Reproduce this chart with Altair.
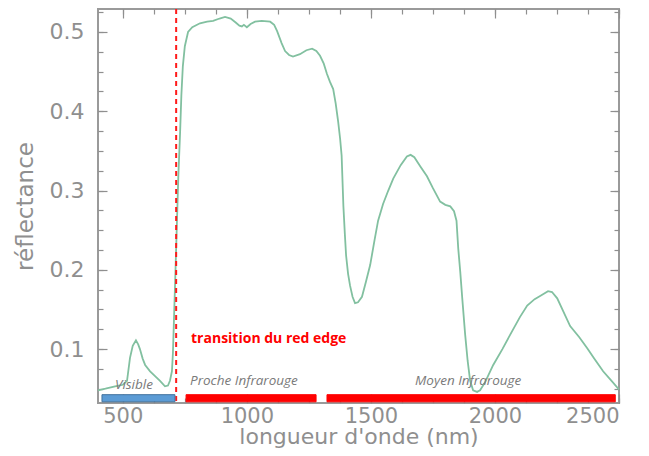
import altair as alt
import pandas as pd

# Spectral reflectance curve (wavelength nm, reflectance)
wavelength = [400, 430, 469, 500, 517, 529, 540, 553, 562, 569, 580, 590, 610, 630, 650, 670, 682, 690,
              698, 702, 706, 710, 717, 724, 731, 736, 742, 750, 763, 780, 811, 840, 864, 890, 912, 935,
              955, 970, 980, 988, 1000, 1015, 1033, 1060, 1094, 1110, 1122, 1140, 1154, 1170, 1186, 1214,
              1240, 1263, 1280, 1295, 1310, 1323, 1335, 1348, 1358, 1368, 1376, 1382, 1389, 1395, 1400,
              1408, 1416, 1426, 1436, 1448, 1464, 1480, 1497, 1515, 1529, 1549, 1570, 1590, 1620, 1645,
              1660, 1675, 1700, 1726, 1750, 1779, 1800, 1820, 1835, 1845, 1852, 1860, 1868, 1880, 1890,
              1900, 1912, 1928, 1940, 1960, 1993, 2030, 2061, 2100, 2130, 2160, 2182, 2214, 2230, 2251,
              2275, 2303, 2340, 2372, 2400, 2436, 2470, 2500]
reflectance = [0.048, 0.050, 0.053, 0.055, 0.060, 0.089, 0.104, 0.111, 0.106, 0.100, 0.088, 0.080, 0.072,
               0.066, 0.060, 0.053, 0.054, 0.060, 0.072, 0.095, 0.135, 0.175, 0.248, 0.320, 0.374, 0.420,
               0.457, 0.482, 0.500, 0.506, 0.511, 0.513, 0.514, 0.517, 0.519, 0.517, 0.512, 0.508, 0.507,
               0.509, 0.506, 0.510, 0.513, 0.514, 0.513, 0.509, 0.501, 0.486, 0.476, 0.471, 0.469, 0.472,
               0.477, 0.479, 0.476, 0.470, 0.460, 0.447, 0.437, 0.428, 0.410, 0.387, 0.365, 0.344, 0.281,
               0.245, 0.218, 0.195, 0.180, 0.166, 0.158, 0.159, 0.166, 0.185, 0.206, 0.238, 0.262, 0.283,
               0.300, 0.315, 0.332, 0.343, 0.345, 0.342, 0.330, 0.318, 0.303, 0.286, 0.282, 0.280, 0.274,
               0.262, 0.227, 0.198, 0.165, 0.118, 0.085, 0.060, 0.048, 0.046, 0.048, 0.058, 0.080, 0.100,
               0.118, 0.140, 0.155, 0.163, 0.167, 0.173, 0.172, 0.164, 0.148, 0.129, 0.115, 0.101, 0.088,
               0.072, 0.060, 0.049]

# Spectral domains (bars at the bottom)
band_start = [416, 755, 1323]
band_end = [710, 1279, 2485]
band_kind = ["visible", "nir", "swir"]
band_low = [0.0335, 0.0335, 0.0335]
band_high = [0.0425, 0.0425, 0.0425]

# Annotations
note_text = ["Visible", "Proche Infrarouge", "Moyen Infrarouge"]
note_x = [545, 771, 1892]
note_y = [0.0547, 0.0597, 0.0600]
note_align = ["center", "left", "center"]
red_edge_text = ["transition du red edge"]
red_edge_x = [775]
red_edge_y = [0.1125]
red_edge_line = [715]

# Axis ticks
x_major = [500, 1000, 1500, 2000, 2500]
x_minor = [500, 625, 750, 875, 1000, 1125, 1250, 1375, 1500, 1625, 1750, 1875, 2000, 2125, 2250, 2375, 2500]
y_major = [0.1, 0.2, 0.3, 0.4, 0.5]
y_minor = [0.05, 0.075, 0.1, 0.125, 0.15, 0.175, 0.2, 0.225, 0.25, 0.275, 0.3, 0.325, 0.35, 0.375,
           0.4, 0.425, 0.45, 0.475, 0.5, 0.525]

X_DOMAIN = [400, 2500]
Y_DOMAIN = [0.032, 0.529]
GREY = "#8f8f8f"

curve = pd.DataFrame({"wl": wavelength, "r": reflectance})
bands = pd.DataFrame({"x1": band_start, "x2": band_end, "kind": band_kind, "y1": band_low, "y2": band_high})
notes = pd.DataFrame({"t": note_text, "x": note_x, "y": note_y, "a": note_align})
red_note = pd.DataFrame({"t": red_edge_text, "x": red_edge_x, "y": red_edge_y})
red_line = pd.DataFrame({"x": red_edge_line})

xs = alt.Scale(domain=X_DOMAIN, nice=False, zero=False)
ys = alt.Scale(domain=Y_DOMAIN, nice=False, zero=False)


def tick_axis(orient, values, size, labels=False, title=None, **kw):
    args = dict(orient=orient, values=values, tickSize=size, offset=-size, domain=False, grid=False,
                labels=labels, tickColor=GREY, tickWidth=1.2)
    args["title"] = title
    args.update(kw)
    return alt.Axis(**args)


label_style = dict(labelColor=GREY, labelFontSize=22, labelFont="DejaVu Sans", titleColor=GREY,
                   titleFontSize=22, titleFont="DejaVu Sans", titleFontWeight="normal")

main_line = alt.Chart(curve).mark_line(color="#82c0a0", strokeWidth=1.8).encode(
    x=alt.X("wl:Q", scale=xs,
            axis=tick_axis("bottom", x_major, 9, labels=True, title="longueur d'onde (nm)",
                           labelPadding=2, titlePadding=0, format="d",
                           **dict(label_style, labelFontSize=21))),
    y=alt.Y("r:Q", scale=ys,
            axis=tick_axis("left", y_major, 9, labels=True, title="réflectance",
                           labelPadding=14, titlePadding=12, format=".1f",
                           **dict(label_style, titleFontSize=23))),
)


def ghost(xaxis, yaxis):
    return alt.Chart(curve).mark_point(opacity=0).encode(
        x=alt.X("wl:Q", scale=xs, axis=xaxis),
        y=alt.Y("r:Q", scale=ys, axis=yaxis),
    )


g1 = ghost(tick_axis("bottom", x_minor, 5), tick_axis("left", y_minor, 5))
g2 = ghost(tick_axis("top", x_major, 9), tick_axis("right", y_major, 9))
g3 = ghost(tick_axis("top", x_minor, 5), tick_axis("right", y_minor, 5))

rule = alt.Chart(red_line).mark_rule(color="#ff1a1a", strokeWidth=2, strokeDash=[5, 4]).encode(
    x=alt.X("x:Q", scale=xs, axis=None)
)

bars = alt.Chart(bands).mark_rect(strokeWidth=1).encode(
    x=alt.X("x1:Q", scale=xs, axis=None),
    x2="x2:Q",
    y=alt.Y("y1:Q", scale=ys, axis=None),
    y2="y2:Q",
    fill=alt.Fill("kind:N", scale=alt.Scale(domain=band_kind, range=["#5b9bd5", "#ff0000", "#ff0000"]),
                  legend=None),
    stroke=alt.Stroke("kind:N", scale=alt.Scale(domain=band_kind, range=["#41719c", "#ff0000", "#ff0000"]),
                      legend=None),
)

note_layers = []
for al in ["center", "left"]:
    note_layers.append(
        alt.Chart(notes[notes["a"] == al]).mark_text(
            align=al, baseline="middle", font="Open Sans", fontStyle="italic", fontSize=13.5, color="#7a7a7a"
        ).encode(
            x=alt.X("x:Q", scale=xs, axis=None),
            y=alt.Y("y:Q", scale=ys, axis=None),
            text="t:N",
        )
    )

red_text = alt.Chart(red_note).mark_text(
    align="left", baseline="middle", font="Open Sans", fontWeight="bold", fontSize=14, color="#ff0000"
).encode(
    x=alt.X("x:Q", scale=xs, axis=None),
    y=alt.Y("y:Q", scale=ys, axis=None),
    text="t:N",
)

chart = alt.layer(main_line, g1, g2, g3, rule, bars, *note_layers, red_text).resolve_axis(
    x="independent", y="independent"
).properties(
    width=521, height=394,
    autosize=alt.AutoSizeParams(type="none"),
    padding={"left": 90, "top": 1, "right": 20, "bottom": 45},
).configure_view(stroke="#9a9a9a", strokeWidth=2)

chart.save("out.html", embed_options={"renderer": "svg", "actions": False})
